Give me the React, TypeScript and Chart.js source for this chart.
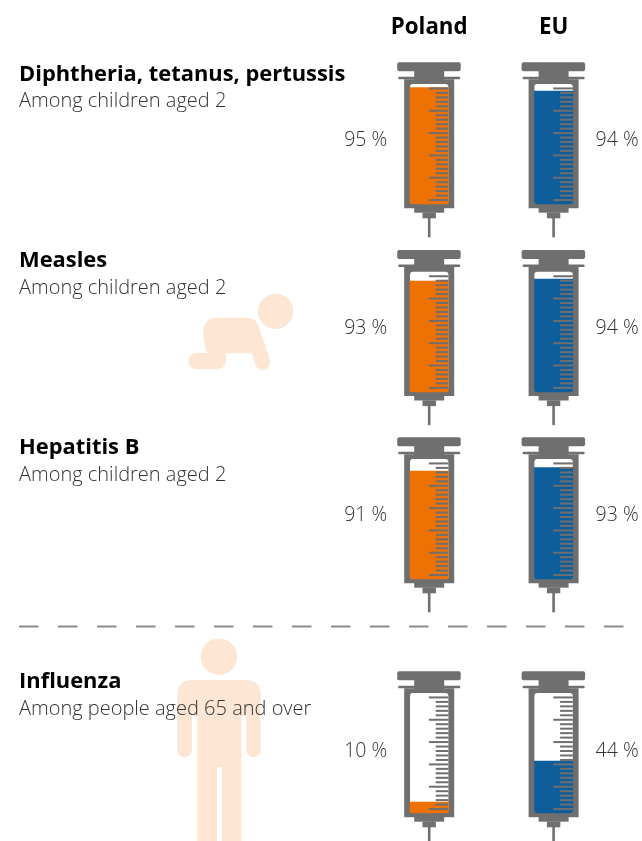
import React, { useEffect, useRef } from "react";
import { Chart, registerables } from "chart.js";

Chart.register(...registerables);

const columns = ["Poland", "EU"];
const rowTitles = ["Diphtheria, tetanus, pertussis", "Measles", "Hepatitis B", "Influenza"];
const rowSubtitles = ["Among children aged 2", "Among children aged 2", "Among children aged 2", "Among people aged 65 and over"];
// printed percentages
const polandLabels = [95, 93, 91, 10];
const euLabels = [94, 94, 93, 44];
// fill height of each syringe (% of the barrel)
const polandFill = [97, 92.3, 90, 9];
const euFill = [94, 94, 92.8, 43.3];

const tubeTops = [84, 271.8, 459, 693];
const titleY = [74.5, 260.5, 447.5, 681.5];
const subtitleY = [101, 288, 475, 709];
const labelY = [140.5, 328.5, 515.5, 751.5];

const W = 642, H = 841, AXIS_H = 42, PX_PER_UNIT = 1.2;
const GREY = "#6f6f6f", PEACH = "#fde6d3";
const SUB_FONT = "300 20px 'Open Sans'";
const PCT_FONT = "300 19.5px 'Open Sans'";
const TITLE_FONT = "700 21.9px 'Open Sans'";
const TICK_STEP = 3.72, TICK_BASE = 3.3, TICK_COUNT = 26;

function rowAxis(top: number) {
  return {
    axis: "y",
    position: "left",
    type: "linear",
    display: false,
    min: 100 - (H - top) / PX_PER_UNIT,
    max: 100 + (top - AXIS_H) / PX_PER_UNIT,
    grid: { display: false },
  };
}

function rr(ctx: CanvasRenderingContext2D, x0: number, y0: number, x1: number, y1: number, r: number | number[] = 0) {
  ctx.beginPath();
  ctx.roundRect(x0, y0, x1 - x0, y1 - y0, r);
  ctx.fill();
}

function drawPerson(ctx: CanvasRenderingContext2D) {
  ctx.fillStyle = PEACH;
  ctx.beginPath();
  ctx.arc(219, 656.7, 18.3, 0, Math.PI * 2);
  ctx.fill();
  ctx.beginPath();
  ctx.moveTo(192, 680);
  ctx.lineTo(246, 680);
  ctx.quadraticCurveTo(260.7, 680, 260.7, 695);
  ctx.lineTo(260.7, 750);
  ctx.arc(253.5, 750, 7.2, 0, Math.PI);
  ctx.lineTo(246.3, 716);
  ctx.lineTo(241.3, 716);
  ctx.lineTo(241.3, 841);
  ctx.lineTo(221.7, 841);
  ctx.lineTo(221.7, 769);
  ctx.arc(219.35, 769, 2.35, 0, Math.PI, true);
  ctx.lineTo(217, 841);
  ctx.lineTo(197.3, 841);
  ctx.lineTo(197.3, 716);
  ctx.lineTo(192, 716);
  ctx.lineTo(192, 750);
  ctx.arc(184.65, 750, 7.35, 0, Math.PI);
  ctx.lineTo(177.3, 695);
  ctx.quadraticCurveTo(177.3, 680, 192, 680);
  ctx.closePath();
  ctx.fill();
}

function drawBaby(ctx: CanvasRenderingContext2D) {
  ctx.fillStyle = PEACH;
  ctx.beginPath();
  ctx.arc(275.7, 311.3, 17.7, 0, Math.PI * 2);
  ctx.fill();
  ctx.beginPath();
  ctx.moveTo(218, 317.7);
  ctx.lineTo(248, 317.7);
  ctx.quadraticCurveTo(255, 317.7, 258, 325);
  ctx.lineTo(269.8, 359);
  ctx.arc(262.5, 362, 7.7, -0.4, Math.PI - 0.25);
  ctx.lineTo(251.7, 353.3);
  ctx.lineTo(226, 353.3);
  ctx.lineTo(226, 361);
  ctx.arc(218, 361, 8, 0, Math.PI / 2);
  ctx.lineTo(196.3, 369);
  ctx.arc(196.3, 361, 8, Math.PI / 2, -Math.PI / 2);
  ctx.lineTo(207, 353);
  ctx.quadraticCurveTo(203.3, 340, 203.3, 332);
  ctx.quadraticCurveTo(203.3, 317.7, 218, 317.7);
  ctx.closePath();
  ctx.fill();
}

function drawSyringe(ctx: CanvasRenderingContext2D, cx: number, top: number) {
  ctx.fillStyle = GREY;
  rr(ctx, cx - 32, top - 21.7, cx + 31.5, top - 12.7, 2);
  rr(ctx, cx - 15, top - 13, cx + 15, top - 4, 0);
  rr(ctx, cx - 31, top - 7.3, cx + 31, top - 4.7, 1);
  rr(ctx, cx - 25, top - 4.7, cx + 25, top + 124.3, 0);
  rr(ctx, cx - 15, top + 124, cx + 15, top + 128.7, 0);
  rr(ctx, cx - 6.7, top + 128.5, cx + 6.7, top + 134.3, 0);
  rr(ctx, cx - 1.3, top + 134, cx + 1.3, top + 153.3, 0);
  ctx.fillStyle = "#ffffff";
  rr(ctx, cx - 19.2, top, cx + 19.2, top + 120, 3);
}

const syringePlugin = {
  id: "syringes",
  beforeDatasetsDraw(chart: any) {
    const { ctx, scales } = chart;
    ctx.save();
    drawBaby(ctx);
    drawPerson(ctx);
    // dashed separator
    ctx.strokeStyle = "#8c8c8c";
    ctx.lineWidth = 1.8;
    ctx.setLineDash([19.5, 19.5]);
    ctx.beginPath();
    ctx.moveTo(19, 626.5);
    ctx.lineTo(624, 626.5);
    ctx.stroke();
    ctx.setLineDash([]);
    rowTitles.forEach((_, r) => {
      const top = scales["y" + r].getPixelForValue(100);
      columns.forEach((_c, c) => drawSyringe(ctx, scales.x.getPixelForTick(c), top));
    });
    // texts
    ctx.textBaseline = "middle";
    rowTitles.forEach((t, r) => {
      ctx.textAlign = "left";
      ctx.fillStyle = "#000000";
      ctx.font = TITLE_FONT;
      ctx.fillText(t, 19, titleY[r]);
      ctx.fillStyle = "#333333";
      ctx.font = SUB_FONT;
      ctx.fillText(rowSubtitles[r], 19, subtitleY[r]);
      ctx.font = PCT_FONT;
      ctx.textAlign = "right";
      ctx.fillText(polandLabels[r] + " %", scales.x.getPixelForTick(0) - 42, labelY[r]);
      ctx.textAlign = "left";
      ctx.fillText(euLabels[r] + " %", scales.x.getPixelForTick(1) + 42, labelY[r]);
    });
    ctx.restore();
  },
  afterDatasetsDraw(chart: any) {
    const { ctx, scales } = chart;
    ctx.save();
    ctx.fillStyle = GREY;
    rowTitles.forEach((_, r) => {
      const y = scales["y" + r];
      columns.forEach((_c, c) => {
        const cx = scales.x.getPixelForTick(c);
        for (let i = 0; i < TICK_COUNT; i++) {
          const py = y.getPixelForValue(TICK_BASE + i * TICK_STEP);
          const x0 = i % 5 === 0 ? cx - 0.3 : cx + 6.5;
          ctx.fillRect(x0, py - 1, cx + 19.2 - x0, 2);
        }
      });
    });
    ctx.restore();
  },
};

export default function App() {
  const ref = useRef<HTMLCanvasElement>(null);
  useEffect(() => {
    const chart = new Chart(ref.current!, {
      type: "bar",
      data: {
        labels: columns,
        datasets: rowTitles.map((t, r) => ({
          label: t,
          data: [polandFill[r], euFill[r]],
          backgroundColor: ["#ee7203", "#0f5e9c"],
          borderWidth: 0,
          barThickness: 38.4,
          grouped: false,
          borderRadius: { topLeft: 0, topRight: 0, bottomLeft: 3, bottomRight: 3 },
          borderSkipped: false,
          yAxisID: "y" + r,
        })),
      },
      options: {
        animation: false,
        responsive: false,
        layout: { padding: { left: 367, right: 26.2, top: 0, bottom: 0 } },
        plugins: { legend: { display: false }, tooltip: { enabled: false }, title: { display: false } },
        scales: {
          x: {
            position: "top",
            grid: { display: false, drawTicks: false },
            border: { display: false },
            ticks: {
              color: "#000000",
              padding: 1,
              maxRotation: 0,
              autoSkip: false,
              font: { family: "'Open Sans'", size: 22.3, weight: "bold" },
            },
            afterFit(s: any) { s.height = AXIS_H; },
          },
          y0: rowAxis(tubeTops[0]),
          y1: rowAxis(tubeTops[1]),
          y2: rowAxis(tubeTops[2]),
          y3: rowAxis(tubeTops[3]),
        },
      } as any,
      plugins: [syringePlugin],
    });
    return () => chart.destroy();
  }, []);
  return <canvas ref={ref} width={W} height={H} style={{ position: "absolute", left: 0, top: 0, display: "block" }} />;
}
